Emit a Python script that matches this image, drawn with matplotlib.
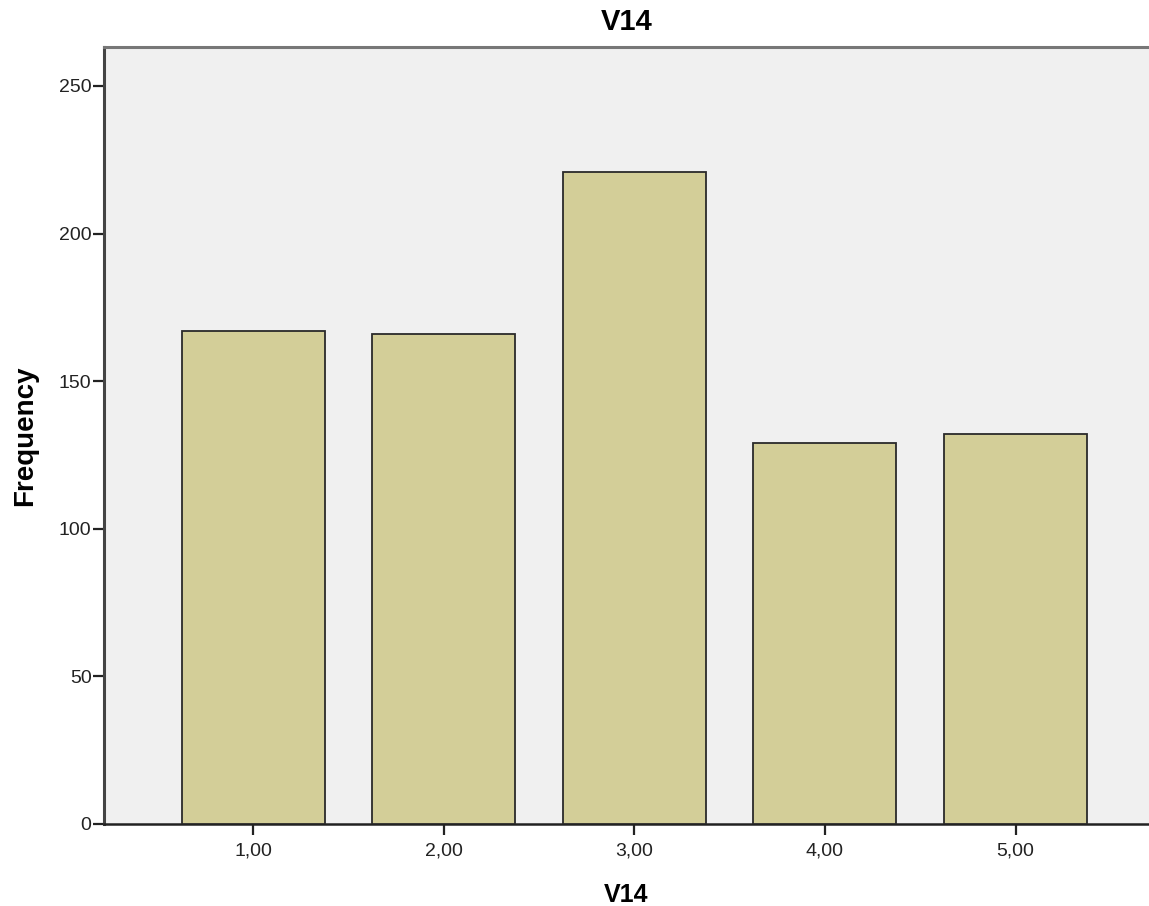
import matplotlib
matplotlib.use("Agg")
import matplotlib.pyplot as plt

categories = [1, 2, 3, 4, 5]
tick_labels = ["1,00", "2,00", "3,00", "4,00", "5,00"]
frequencies = [167, 166, 221, 129, 132]
y_ticks = [0, 50, 100, 150, 200, 250]

plt.rcParams['font.family'] = ['Liberation Sans', 'DejaVu Sans']

fig = plt.figure(figsize=(11.49, 9.06), dpi=100)
ax = fig.add_axes([104/1149, 82/906, 1 - 104/1149, (824-47)/906])
ax.set_facecolor('#F0F0F0')

ax.bar(categories, frequencies, width=0.75, color='#D3CE98',
       edgecolor='#2a2a2a', linewidth=1.3, zorder=3)

ax.set_xlim(0.218, 5.70)
ax.set_ylim(0, 263.2)
ax.set_xticks(categories)
ax.set_xticklabels(tick_labels)
ax.set_yticks(y_ticks)
ax.set_yticklabels([str(v) for v in y_ticks])

ax.tick_params(axis='both', labelsize=14, length=8, width=1.6, color='#222222', labelcolor='#222222')
ax.tick_params(axis='y', pad=1)
ax.tick_params(axis='x', pad=5)

ax.spines['right'].set_visible(False)
ax.spines['left'].set_color('#444444')
ax.spines['left'].set_linewidth(2.2)
ax.spines['bottom'].set_color('#222222')
ax.spines['bottom'].set_linewidth(1.8)
ax.spines['top'].set_color('#777777')
ax.spines['top'].set_linewidth(2.2)

ax.set_title('V14', fontsize=21, fontweight='bold', pad=12)
ax.set_xlabel('V14', fontsize=18, fontweight='bold', labelpad=17)
ax.set_ylabel('Frequency', fontsize=20, fontweight='bold', labelpad=15)

fig.savefig('out.png', dpi=100)
